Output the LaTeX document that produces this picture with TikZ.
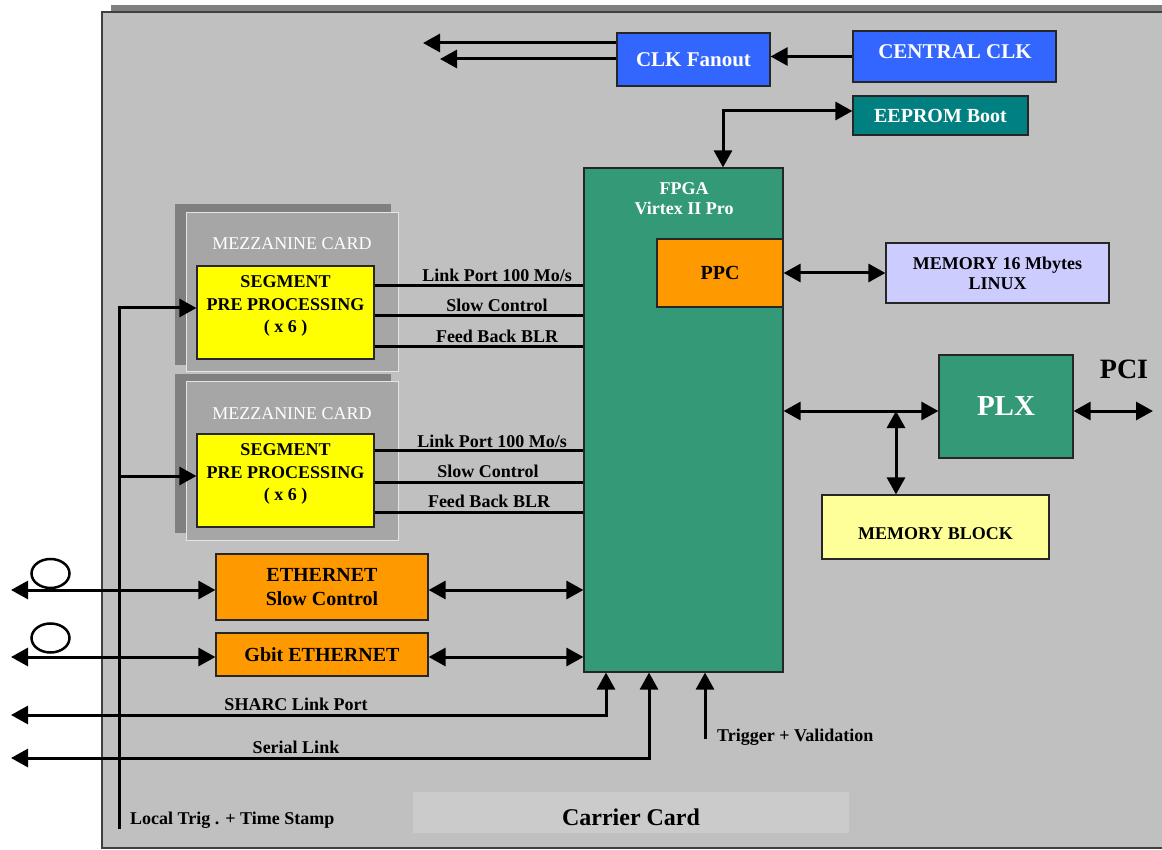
\documentclass[tikz,border=0pt]{standalone}
\usepackage{fontspec}
\setmainfont{Liberation Serif}
\usetikzlibrary{arrows.meta}
\definecolor{carriergray}{HTML}{C0C0C0}
\definecolor{shadowgray}{HTML}{808080}
\definecolor{mezzgray}{HTML}{A6A6A6}
\definecolor{cardgray}{HTML}{CBCBCB}
\definecolor{clkblue}{HTML}{3366FF}
\definecolor{eepteal}{HTML}{008080}
\definecolor{fpgagreen}{HTML}{339977}
\definecolor{boxorange}{HTML}{FF9900}
\definecolor{segyellow}{HTML}{FFFF00}
\definecolor{lightyellow}{HTML}{FFFF99}
\definecolor{lavender}{HTML}{CCCCFF}
\begin{document}
\begin{tikzpicture}[x=1pt,y=-1pt,
  >={Triangle[length=17pt,width=18pt]},
  box/.style={draw=black!85,line width=1.2pt,inner sep=0pt,align=center},
  conn/.style={line width=3pt},
  lbl/.style={font=\fontsize{18}{20}\selectfont\bfseries,inner sep=0pt},
  wtxt/.style={text=white,inner sep=0pt,align=center},
  btxt/.style={text=black,inner sep=0pt,align=center}]
\useasboundingbox (0,0) rectangle (1162,850);

% carrier card (right side runs off the page)
\fill[shadowgray] (111,5) rectangle (1162,13);
\fill[carriergray] (102,12) rectangle (1162,848);
\draw[black!75,line width=1.5pt] (1162,12) -- (102,12) -- (102,848) -- (1162,848);
\node[fill=cardgray,minimum width=436pt,minimum height=41pt,inner sep=0pt] (cardlbl) at (631,812.5) {};
\node[anchor=base,inner sep=0pt,font=\fontsize{24}{24}\selectfont\bfseries] (cardtxt) at (631,825) {Carrier Card};

% mezzanine cards
\fill[shadowgray] (175,204) rectangle (391,365);
\node[fill=mezzgray,draw=white!80!gray,line width=1pt,minimum width=212pt,minimum height=158pt,inner sep=0pt] (mezz1) at (292,292) {};
\node[wtxt,font=\fontsize{18}{20}\selectfont] (mezz1t) at (292,244) {MEZZANINE CARD};
\fill[shadowgray] (175,374) rectangle (391,533);
\node[fill=mezzgray,draw=white!80!gray,line width=1pt,minimum width=212pt,minimum height=159pt,inner sep=0pt] (mezz2) at (292,460.5) {};
\node[wtxt,font=\fontsize{18}{20}\selectfont] (mezz2t) at (292,414) {MEZZANINE CARD};

\node[box,fill=segyellow,minimum width=177pt,minimum height=93pt] (seg1) at (285.5,312.5) {};
\node[btxt,font=\fontsize{18}{22.5}\selectfont\bfseries] (seg1t) at (285.5,306) {SEGMENT\\PRE PROCESSING\\( x 6 )};
\node[box,fill=segyellow,minimum width=177pt,minimum height=93pt] (seg2) at (285.5,480.5) {};
\node[btxt,font=\fontsize{18}{22.5}\selectfont\bfseries] (seg2t) at (285.5,474) {SEGMENT\\PRE PROCESSING\\( x 6 )};

% FPGA and others
\node[box,fill=fpgagreen,minimum width=199pt,minimum height=504pt] (fpga) at (683.5,420) {};
\node[wtxt,font=\fontsize{18}{20}\selectfont\bfseries] (fpgat) at (684,199) {FPGA\\Virtex II Pro};
\node[box,fill=boxorange,minimum width=126pt,minimum height=68pt,font=\fontsize{20}{22}\selectfont\bfseries] (ppc) at (720,273) {PPC};
\node[box,fill=lavender,minimum width=223pt,minimum height=60pt,font=\fontsize{18}{20}\selectfont\bfseries] (mem16) at (997.5,273) {MEMORY 16 Mbytes\\LINUX};
\node[box,fill=fpgagreen,minimum width=134pt,minimum height=103pt,text=white,font=\fontsize{29}{30}\selectfont\bfseries] (plx) at (1006,406.5) {PLX};
\node[box,fill=lightyellow,minimum width=227pt,minimum height=64pt] (memblk) at (935.5,527) {};
\node[btxt,font=\fontsize{18}{20}\selectfont\bfseries] (memblkt) at (935.5,534) {MEMORY BLOCK};
\node[btxt,font=\fontsize{28}{28}\selectfont\bfseries] (pcit) at (1124,369) {PCI};

\node[box,fill=clkblue,minimum width=153pt,minimum height=53pt,text=white,font=\fontsize{21}{22}\selectfont\bfseries] (clkfan) at (693.5,59.5) {CLK Fanout};
\node[box,fill=clkblue,minimum width=203pt,minimum height=51pt] (central) at (954.5,56.5) {};
\node[wtxt,font=\fontsize{21}{22}\selectfont\bfseries] (centralt) at (955,52) {CENTRAL CLK};
\node[box,fill=eepteal,minimum width=175pt,minimum height=39pt,text=white,font=\fontsize{20}{22}\selectfont\bfseries] (eeprom) at (940.5,115.5) {EEPROM Boot};

\node[box,fill=boxorange,minimum width=212pt,minimum height=66pt,font=\fontsize{20}{24}\selectfont\bfseries] (eth) at (322,587) {ETHERNET\\Slow Control};
\node[box,fill=boxorange,minimum width=212pt,minimum height=43pt,font=\fontsize{20}{22}\selectfont\bfseries] (gbit) at (322,654.5) {Gbit ETHERNET};

% segment to FPGA lines
\draw[conn] ([yshift=26.5pt]seg1.east) coordinate (p) -- (p -| fpga.west);
\draw[conn] ([yshift=-3.5pt]seg1.east) coordinate (p) -- (p -| fpga.west);
\draw[conn] ([yshift=-33.5pt]seg1.east) coordinate (p) -- (p -| fpga.west);
\draw[conn] ([yshift=30.5pt]seg2.east) coordinate (p) -- (p -| fpga.west);
\draw[conn] ([yshift=-1.5pt]seg2.east) coordinate (p) -- (p -| fpga.west);
\draw[conn] ([yshift=-31.5pt]seg2.east) coordinate (p) -- (p -| fpga.west);
\node[lbl,anchor=base] (l11) at (497,282) {Link Port 100 Mo/s};
\node[lbl,anchor=base] (l12) at (497,312) {Slow Control};
\node[lbl,anchor=base] (l13) at (497,342) {Feed Back BLR};
\node[lbl,anchor=base] (l21) at (492,447) {Link Port 100 Mo/s};
\node[lbl,anchor=base] (l22) at (488,477) {Slow Control};
\node[lbl,anchor=base] (l23) at (489,507) {Feed Back BLR};

% clock
\coordinate (ck1) at (423,43);
\coordinate (ck2) at (440,59);
\draw[conn,->] (ck1 -| clkfan.west) -- (ck1);
\draw[conn,->] (ck2 -| clkfan.west) -- (ck2);
\draw[conn,->] (central.west) -- (central.west -| clkfan.east);
\draw[conn,<->] ([xshift=39.5pt]fpga.north) |- ([yshift=4.5pt]eeprom.west);

% right side
\draw[conn,<->] (ppc.east) -- (mem16.west);
\path ([yshift=-4.5pt]plx.west) coordinate (pw);
\draw[conn,<->] (pw -| fpga.east) -- (pw);
\draw[conn,<->] ([xshift=-39.5pt]memblk.north) coordinate (mb) -- (mb |- pw);
\coordinate (pciR) at (1153,411);
\draw[conn,<->] (pciR -| plx.east) -- (pciR);

% ethernet
\coordinate (ethL) at (11,590);
\coordinate (gbL) at (11,657);
\draw[conn,<->] (ethL) -- (ethL -| eth.west);
\draw[conn,<->] (ethL -| eth.east) -- (ethL -| fpga.west);
\draw[conn,<->] (gbL) -- (gbL -| gbit.west);
\draw[conn,<->] (gbL -| gbit.east) -- (gbL -| fpga.west);
\draw[line width=2.5pt] (50.5,573.5) ellipse [x radius=19pt,y radius=14.5pt];
\draw[line width=2.5pt] (50.5,638) ellipse [x radius=19pt,y radius=14.5pt];

% bottom links
\coordinate (sharcL) at (11,715);
\coordinate (serL) at (11,758);
\coordinate (trig) at (705,739);
\draw[conn,<->] (sharcL) -| ([xshift=-77.5pt]fpga.south);
\draw[conn,<->] (serL) -| ([xshift=-34.5pt]fpga.south);
\draw[conn,->] (trig) -- (trig |- fpga.south);
\node[lbl,anchor=base] (sharct) at (296,710) {SHARC Link Port};
\node[lbl,anchor=base] (sert) at (296,753) {Serial Link};
\node[lbl,anchor=base west] (trigt) at (717,741) {Trigger + Validation};

% local trigger
\coordinate (lt) at (119,829);
\draw[conn,->] (lt) |- ([yshift=4.5pt]seg1.west);
\path ([yshift=4.5pt]seg2.west) coordinate (s2w);
\draw[conn,->] (s2w -| lt) -- (s2w);
\node[lbl,anchor=base west] (ltt) at (130,824) {Local Trig . + Time Stamp};
\end{tikzpicture}
\end{document}
